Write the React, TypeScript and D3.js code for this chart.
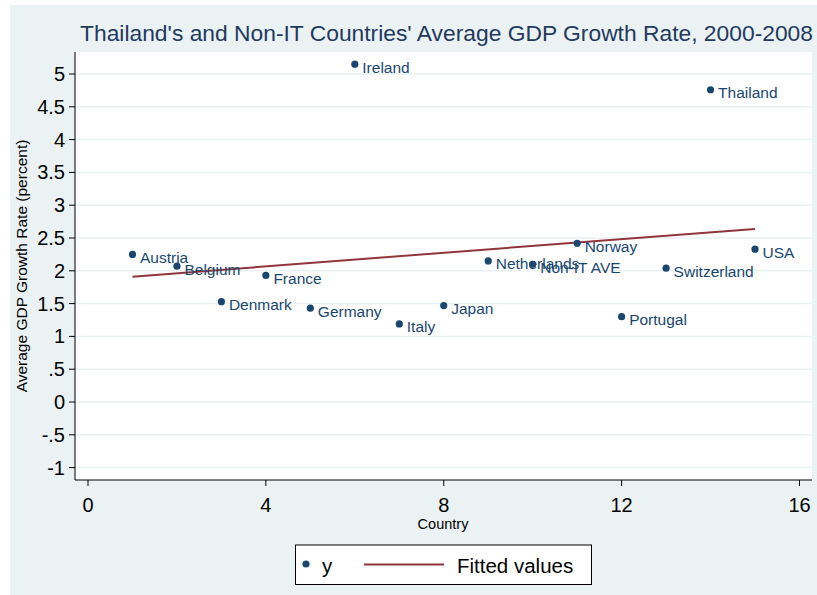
import React from "react";
import * as d3 from "d3";

// Country index (x) and average GDP growth 2000-2008 (y, percent)
const countries = [
  "Austria", "Belgium", "Denmark", "France", "Germany", "Ireland", "Italy", "Japan",
  "Netherlands", "Non-IT AVE", "Norway", "Portugal", "Switzerland", "Thailand", "USA",
];
const countryIndex = [1, 2, 3, 4, 5, 6, 7, 8, 9, 10, 11, 12, 13, 14, 15];
const growthRate = [2.25, 2.07, 1.53, 1.93, 1.43, 5.15, 1.19, 1.47, 2.15, 2.1, 2.42, 1.3, 2.04, 4.76, 2.33];

const xTicks = [0, 4, 8, 12, 16];
const yTicks = [5, 4.5, 4, 3.5, 3, 2.5, 2, 1.5, 1, 0.5, 0, -0.5, -1];

const W = 817;
const H = 595;
const plot = { left: 75, right: 812, top: 52, bottom: 480 };

const NAVY = "#1a476f";
const MAROON = "#90353b";
const BG = "#eaf2f3";
const FONT = "'Liberation Sans', Arial, sans-serif";

function fmtTick(v: number): string {
  if (v === 0) return "0";
  const s = String(v);
  return s.replace(/^0\./, ".").replace(/^-0\./, "-.");
}

export default function App() {
  const x = d3.scaleLinear().domain([0, 16]).range([88, 799.5]);
  const y = d3.scaleLinear().domain([-1, 5]).range([467.6, 74]);

  // Ordinary least-squares fit of growth rate on country index
  const mx = d3.mean(countryIndex) as number;
  const my = d3.mean(growthRate) as number;
  let sxy = 0;
  let sxx = 0;
  countryIndex.forEach((xi, i) => {
    sxy += (xi - mx) * (growthRate[i] - my);
    sxx += (xi - mx) * (xi - mx);
  });
  const slope = sxy / sxx;
  const intercept = my - slope * mx;
  const x0 = d3.min(countryIndex) as number;
  const x1 = d3.max(countryIndex) as number;
  const fitLine = d3
    .line<number>()
    .x((d) => x(d))
    .y((d) => y(intercept + slope * d))([x0, x1]);

  return (
    <svg
      width={W}
      height={H}
      style={{ position: "absolute", left: 0, top: 0 }}
      fontFamily={FONT}
    >
      <rect x={0} y={0} width={W} height={H} fill="#ffffff" />
      <rect x={10} y={5} width={W - 10} height={H - 5} fill={BG} />
      <rect
        x={plot.left}
        y={plot.top}
        width={plot.right - plot.left}
        height={plot.bottom - plot.top}
        fill="#ffffff"
      />

      {/* horizontal grid */}
      {yTicks.map((t) => (
        <line
          key={"g" + t}
          x1={plot.left}
          x2={plot.right}
          y1={y(t)}
          y2={y(t)}
          stroke={BG}
          strokeWidth={1.5}
        />
      ))}

      {/* title */}
      <text
        x={446.5}
        y={41}
        textAnchor="middle"
        fontSize={22.5}
        textLength={733}
        lengthAdjust="spacingAndGlyphs"
        fill="#23395d"
      >
        Thailand's and Non-IT Countries' Average GDP Growth Rate, 2000-2008
      </text>

      {/* fitted line */}
      <path d={fitLine ?? ""} fill="none" stroke={MAROON} strokeWidth={2} />

      {/* points and labels */}
      {countries.map((c, i) => (
        <g key={c}>
          <circle cx={x(countryIndex[i])} cy={y(growthRate[i])} r={3.6} fill={NAVY} />
          <text
            x={x(countryIndex[i]) + 7.5}
            y={y(growthRate[i]) + 8.4}
            fontSize={15.5}
            fill={NAVY}
          >
            {c}
          </text>
        </g>
      ))}

      {/* axes */}
      <line x1={plot.left} x2={plot.left} y1={plot.top} y2={plot.bottom} stroke="#000" strokeWidth={1} />
      <line x1={plot.left} x2={plot.right} y1={plot.bottom} y2={plot.bottom} stroke="#000" strokeWidth={1} />

      {yTicks.map((t) => (
        <g key={"y" + t}>
          <line x1={plot.left - 6} x2={plot.left} y1={y(t)} y2={y(t)} stroke="#000" />
          <text
            x={plot.left - 10}
            y={y(t) + 7}
            textAnchor="end"
            fontSize={20}
            fill="#000"
          >
            {fmtTick(t)}
          </text>
        </g>
      ))}
      {xTicks.map((t) => (
        <g key={"x" + t}>
          <line x1={x(t)} x2={x(t)} y1={plot.bottom} y2={plot.bottom + 6} stroke="#000" />
          <text x={x(t)} y={512} textAnchor="middle" fontSize={20} fill="#000">
            {t}
          </text>
        </g>
      ))}

      {/* axis titles */}
      <text x={443} y={528.5} textAnchor="middle" fontSize={14.5} fill="#000">
        Country
      </text>
      <text
        transform={`translate(27, 266) rotate(-90)`}
        textAnchor="middle"
        fontSize={15.5}
        fill="#000"
      >
        Average GDP Growth Rate (percent)
      </text>

      {/* legend */}
      <rect x={295.5} y={545} width={296} height={39.5} fill="#ffffff" stroke="#000" strokeWidth={1} />
      <circle cx={306} cy={564} r={3.6} fill={NAVY} />
      <text x={322} y={573} fontSize={20.5} fill="#000">
        y
      </text>
      <line x1={364} x2={444} y1={564.5} y2={564.5} stroke={MAROON} strokeWidth={2} />
      <text x={457} y={573} fontSize={20.5} fill="#000">
        Fitted values
      </text>
    </svg>
  );
}
